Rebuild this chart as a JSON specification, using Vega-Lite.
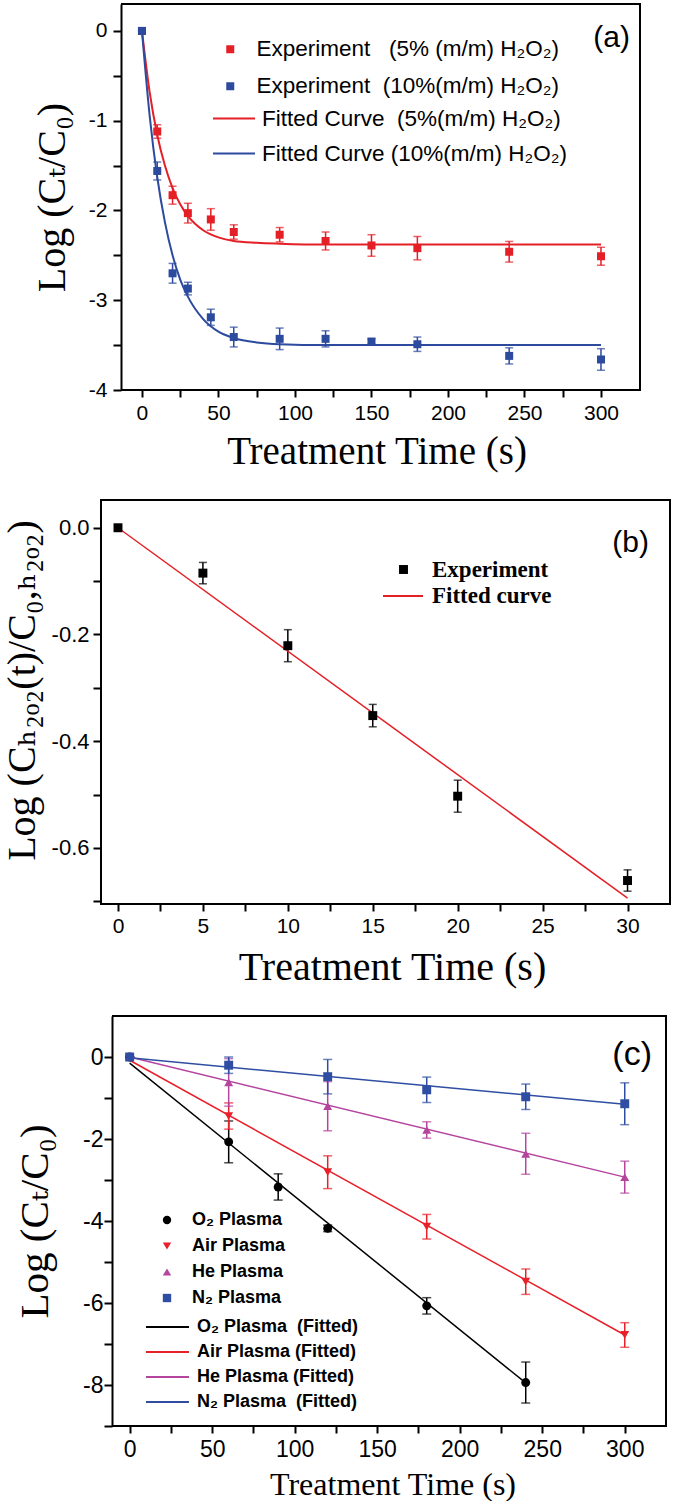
{
  "$schema": "https://vega.github.io/schema/vega-lite/v6.json",
  "padding": {"left": 0, "top": 3, "right": 0, "bottom": 0},
  "background": "white",
  "columns": 1,
  "spacing": 27,
  "align": "none",
  "bounds": "full",
  "resolve": {"scale": {"color": "independent", "stroke": "independent", "fill": "independent", "shape": "independent"}, "legend": {"color": "independent", "stroke": "independent", "fill": "independent", "shape": "independent"}},
  "config": {
    "view": {"stroke": "black", "strokeWidth": 2},
    "axis": {"domain": false, "grid": false, "tickColor": "black", "tickWidth": 2, "labelColor": "black", "titleColor": "black", "labelFont": "Liberation Sans", "titleFont": "Liberation Serif, DejaVu Serif", "titleFontWeight": "normal"},
    "legend": {"labelColor": "black", "labelLimit": 600, "padding": 0},
    "title": {"color": "black"}
  },
  "datasets": {
    "a_pts": [
      {"t": 0, "y": 0, "lo": 0, "hi": 0, "series": "Experiment\u00a0\u00a0\u00a0(5% (m/m) H₂O₂)"},
      {"t": 10, "y": -1.12, "lo": -1.195, "hi": -1.045, "series": "Experiment\u00a0\u00a0\u00a0(5% (m/m) H₂O₂)"},
      {"t": 20, "y": -1.83, "lo": -1.93, "hi": -1.73, "series": "Experiment\u00a0\u00a0\u00a0(5% (m/m) H₂O₂)"},
      {"t": 30, "y": -2.03, "lo": -2.14, "hi": -1.92, "series": "Experiment\u00a0\u00a0\u00a0(5% (m/m) H₂O₂)"},
      {"t": 45, "y": -2.1, "lo": -2.22, "hi": -1.98, "series": "Experiment\u00a0\u00a0\u00a0(5% (m/m) H₂O₂)"},
      {"t": 60, "y": -2.24, "lo": -2.32, "hi": -2.16, "series": "Experiment\u00a0\u00a0\u00a0(5% (m/m) H₂O₂)"},
      {"t": 90, "y": -2.27, "lo": -2.35, "hi": -2.19, "series": "Experiment\u00a0\u00a0\u00a0(5% (m/m) H₂O₂)"},
      {"t": 120, "y": -2.34, "lo": -2.44, "hi": -2.24, "series": "Experiment\u00a0\u00a0\u00a0(5% (m/m) H₂O₂)"},
      {"t": 150, "y": -2.39, "lo": -2.51, "hi": -2.27, "series": "Experiment\u00a0\u00a0\u00a0(5% (m/m) H₂O₂)"},
      {"t": 180, "y": -2.42, "lo": -2.55, "hi": -2.29, "series": "Experiment\u00a0\u00a0\u00a0(5% (m/m) H₂O₂)"},
      {"t": 240, "y": -2.46, "lo": -2.575, "hi": -2.345, "series": "Experiment\u00a0\u00a0\u00a0(5% (m/m) H₂O₂)"},
      {"t": 300, "y": -2.51, "lo": -2.61, "hi": -2.41, "series": "Experiment\u00a0\u00a0\u00a0(5% (m/m) H₂O₂)"},
      {"t": 0, "y": 0, "lo": 0, "hi": 0, "series": "Experiment\u00a0\u00a0(10%(m/m) H₂O₂)"},
      {"t": 10, "y": -1.56, "lo": -1.66, "hi": -1.46, "series": "Experiment\u00a0\u00a0(10%(m/m) H₂O₂)"},
      {"t": 20, "y": -2.7, "lo": -2.81, "hi": -2.59, "series": "Experiment\u00a0\u00a0(10%(m/m) H₂O₂)"},
      {"t": 30, "y": -2.87, "lo": -2.94, "hi": -2.8, "series": "Experiment\u00a0\u00a0(10%(m/m) H₂O₂)"},
      {"t": 45, "y": -3.19, "lo": -3.28, "hi": -3.1, "series": "Experiment\u00a0\u00a0(10%(m/m) H₂O₂)"},
      {"t": 60, "y": -3.41, "lo": -3.52, "hi": -3.3, "series": "Experiment\u00a0\u00a0(10%(m/m) H₂O₂)"},
      {"t": 90, "y": -3.43, "lo": -3.55, "hi": -3.31, "series": "Experiment\u00a0\u00a0(10%(m/m) H₂O₂)"},
      {"t": 120, "y": -3.43, "lo": -3.52, "hi": -3.34, "series": "Experiment\u00a0\u00a0(10%(m/m) H₂O₂)"},
      {"t": 150, "y": -3.46, "lo": -3.49, "hi": -3.43, "series": "Experiment\u00a0\u00a0(10%(m/m) H₂O₂)"},
      {"t": 180, "y": -3.49, "lo": -3.57, "hi": -3.41, "series": "Experiment\u00a0\u00a0(10%(m/m) H₂O₂)"},
      {"t": 240, "y": -3.62, "lo": -3.71, "hi": -3.53, "series": "Experiment\u00a0\u00a0(10%(m/m) H₂O₂)"},
      {"t": 300, "y": -3.66, "lo": -3.78, "hi": -3.54, "series": "Experiment\u00a0\u00a0(10%(m/m) H₂O₂)"}
    ],
    "a_fit": [
      {"t": 0, "y": 0, "fit": "Fitted Curve\u00a0\u00a0(5%(m/m) H₂O₂)"},
      {"t": 5, "y": -0.68, "fit": "Fitted Curve\u00a0\u00a0(5%(m/m) H₂O₂)"},
      {"t": 10, "y": -1.16, "fit": "Fitted Curve\u00a0\u00a0(5%(m/m) H₂O₂)"},
      {"t": 15, "y": -1.5, "fit": "Fitted Curve\u00a0\u00a0(5%(m/m) H₂O₂)"},
      {"t": 20, "y": -1.75, "fit": "Fitted Curve\u00a0\u00a0(5%(m/m) H₂O₂)"},
      {"t": 25, "y": -1.93, "fit": "Fitted Curve\u00a0\u00a0(5%(m/m) H₂O₂)"},
      {"t": 30, "y": -2.06, "fit": "Fitted Curve\u00a0\u00a0(5%(m/m) H₂O₂)"},
      {"t": 40, "y": -2.22, "fit": "Fitted Curve\u00a0\u00a0(5%(m/m) H₂O₂)"},
      {"t": 50, "y": -2.3, "fit": "Fitted Curve\u00a0\u00a0(5%(m/m) H₂O₂)"},
      {"t": 60, "y": -2.34, "fit": "Fitted Curve\u00a0\u00a0(5%(m/m) H₂O₂)"},
      {"t": 75, "y": -2.36, "fit": "Fitted Curve\u00a0\u00a0(5%(m/m) H₂O₂)"},
      {"t": 90, "y": -2.37, "fit": "Fitted Curve\u00a0\u00a0(5%(m/m) H₂O₂)"},
      {"t": 120, "y": -2.38, "fit": "Fitted Curve\u00a0\u00a0(5%(m/m) H₂O₂)"},
      {"t": 200, "y": -2.38, "fit": "Fitted Curve\u00a0\u00a0(5%(m/m) H₂O₂)"},
      {"t": 300, "y": -2.38, "fit": "Fitted Curve\u00a0\u00a0(5%(m/m) H₂O₂)"},
      {"t": 0, "y": 0, "fit": "Fitted Curve (10%(m/m) H₂O₂)"},
      {"t": 5, "y": -0.94, "fit": "Fitted Curve (10%(m/m) H₂O₂)"},
      {"t": 10, "y": -1.63, "fit": "Fitted Curve (10%(m/m) H₂O₂)"},
      {"t": 15, "y": -2.13, "fit": "Fitted Curve (10%(m/m) H₂O₂)"},
      {"t": 20, "y": -2.5, "fit": "Fitted Curve (10%(m/m) H₂O₂)"},
      {"t": 25, "y": -2.77, "fit": "Fitted Curve (10%(m/m) H₂O₂)"},
      {"t": 30, "y": -2.96, "fit": "Fitted Curve (10%(m/m) H₂O₂)"},
      {"t": 40, "y": -3.21, "fit": "Fitted Curve (10%(m/m) H₂O₂)"},
      {"t": 50, "y": -3.35, "fit": "Fitted Curve (10%(m/m) H₂O₂)"},
      {"t": 60, "y": -3.42, "fit": "Fitted Curve (10%(m/m) H₂O₂)"},
      {"t": 75, "y": -3.47, "fit": "Fitted Curve (10%(m/m) H₂O₂)"},
      {"t": 90, "y": -3.49, "fit": "Fitted Curve (10%(m/m) H₂O₂)"},
      {"t": 120, "y": -3.5, "fit": "Fitted Curve (10%(m/m) H₂O₂)"},
      {"t": 200, "y": -3.5, "fit": "Fitted Curve (10%(m/m) H₂O₂)"},
      {"t": 300, "y": -3.5, "fit": "Fitted Curve (10%(m/m) H₂O₂)"}
    ],
    "b_pts": [
      {"t": 0, "y": 0, "lo": 0, "hi": 0, "series": "Experiment"},
      {"t": 5, "y": -0.085, "lo": -0.105, "hi": -0.065, "series": "Experiment"},
      {"t": 10, "y": -0.221, "lo": -0.251, "hi": -0.191, "series": "Experiment"},
      {"t": 15, "y": -0.352, "lo": -0.373, "hi": -0.331, "series": "Experiment"},
      {"t": 20, "y": -0.503, "lo": -0.533, "hi": -0.473, "series": "Experiment"},
      {"t": 30, "y": -0.661, "lo": -0.681, "hi": -0.641, "series": "Experiment"}
    ],
    "b_fit": [
      {"t": 0, "y": 0, "fit": "Fitted curve"},
      {"t": 30, "y": -0.694, "fit": "Fitted curve"}
    ],
    "c_pts": [
      {"t": 0, "y": 0, "lo": 0, "hi": 0, "gas": "O₂ Plasma"},
      {"t": 60, "y": -2.07, "lo": -2.58, "hi": -1.56, "gas": "O₂ Plasma"},
      {"t": 90, "y": -3.17, "lo": -3.49, "hi": -2.85, "gas": "O₂ Plasma"},
      {"t": 120, "y": -4.18, "lo": -4.26, "hi": -4.1, "gas": "O₂ Plasma"},
      {"t": 180, "y": -6.07, "lo": -6.27, "hi": -5.87, "gas": "O₂ Plasma"},
      {"t": 240, "y": -7.94, "lo": -8.44, "hi": -7.44, "gas": "O₂ Plasma"},
      {"t": 0, "y": 0, "lo": 0, "hi": 0, "gas": "Air Plasma"},
      {"t": 60, "y": -1.44, "lo": -1.76, "hi": -1.12, "gas": "Air Plasma"},
      {"t": 120, "y": -2.81, "lo": -3.21, "hi": -2.41, "gas": "Air Plasma"},
      {"t": 180, "y": -4.14, "lo": -4.44, "hi": -3.84, "gas": "Air Plasma"},
      {"t": 240, "y": -5.48, "lo": -5.79, "hi": -5.17, "gas": "Air Plasma"},
      {"t": 300, "y": -6.78, "lo": -7.08, "hi": -6.48, "gas": "Air Plasma"},
      {"t": 0, "y": 0, "lo": 0, "hi": 0, "gas": "He Plasma"},
      {"t": 60, "y": -0.62, "lo": -1.2, "hi": -0.04, "gas": "He Plasma"},
      {"t": 120, "y": -1.2, "lo": -1.8, "hi": -0.6, "gas": "He Plasma"},
      {"t": 180, "y": -1.78, "lo": -1.98, "hi": -1.58, "gas": "He Plasma"},
      {"t": 240, "y": -2.36, "lo": -2.86, "hi": -1.86, "gas": "He Plasma"},
      {"t": 300, "y": -2.93, "lo": -3.32, "hi": -2.54, "gas": "He Plasma"},
      {"t": 0, "y": 0, "lo": 0, "hi": 0, "gas": "N₂ Plasma"},
      {"t": 60, "y": -0.2, "lo": -0.4, "hi": 0.0, "gas": "N₂ Plasma"},
      {"t": 120, "y": -0.48, "lo": -0.9, "hi": -0.06, "gas": "N₂ Plasma"},
      {"t": 180, "y": -0.8, "lo": -1.11, "hi": -0.49, "gas": "N₂ Plasma"},
      {"t": 240, "y": -0.97, "lo": -1.28, "hi": -0.66, "gas": "N₂ Plasma"},
      {"t": 300, "y": -1.14, "lo": -1.65, "hi": -0.63, "gas": "N₂ Plasma"}
    ],
    "c_fit": [
      {"t": 0, "y": -0.15, "fit": "O₂ Plasma\u00a0\u00a0(Fitted)"},
      {"t": 240, "y": -7.95, "fit": "O₂ Plasma\u00a0\u00a0(Fitted)"},
      {"t": 0, "y": -0.08, "fit": "Air Plasma (Fitted)"},
      {"t": 300, "y": -6.78, "fit": "Air Plasma (Fitted)"},
      {"t": 0, "y": 0, "fit": "He Plasma (Fitted)"},
      {"t": 300, "y": -2.93, "fit": "He Plasma (Fitted)"},
      {"t": 0, "y": -0.02, "fit": "N₂ Plasma\u00a0\u00a0(Fitted)"},
      {"t": 300, "y": -1.15, "fit": "N₂ Plasma\u00a0\u00a0(Fitted)"}
    ]
  },
  "concat": [
    {
      "width": 539,
      "height": 386,
      "view": {"stroke": "black", "strokeWidth": 2, "strokeDash": [1424, 426], "strokeDashOffset": 1830},
      "title": {"text": "(a)", "orient": "top", "anchor": "end", "offset": 0, "baseline": "top", "dy": 49, "dx": -10, "fontSize": 30, "font": "Liberation Sans", "fontWeight": "normal"},
      "encoding": {
        "x": {"field": "t", "type": "quantitative", "scale": {"domain": [-26.77, 325.5], "nice": false, "zero": false},
          "axis": {"title": "Treatment Time (s)", "titleX": 275.5, "values": [0, 25, 50, 75, 100, 125, 150, 175, 200, 225, 250, 275, 300], "labelExpr": "datum.value % 50 === 0 ? '' + datum.value : ''", "titleFontSize": 39, "titlePadding": 9, "labelFontSize": 21, "labelPadding": 5, "tickSize": 7}}
      },
      "layer": [
        {
          "data": {"name": "a_pts"},
          "transform": [{"filter": "datum.series === 'Experiment\u00a0\u00a0\u00a0(5% (m/m) H₂O₂)'"}],
          "mark": {"type": "errorbar", "ticks": true, "size": 8, "thickness": 1.5, "color": "#e41f26"},
          "encoding": {
            "y": {"field": "lo", "type": "quantitative", "scale": {"domain": [-4, 0.3], "nice": false, "zero": false},
              "axis": {"title": "Log (Cₜ/C₀)", "offset": -20, "domain": true, "domainColor": "black", "domainWidth": 2, "values": [0, -0.5, -1, -1.5, -2, -2.5, -3, -3.5, -4], "labelExpr": "datum.value % 1 === 0 ? '' + datum.value : ''", "titleFontSize": 40, "titleX": -57, "titleBaseline": "alphabetic", "labelFontSize": 21, "labelPadding": 6, "tickSize": 8}},
            "y2": {"field": "hi"}
          }
        },
        {
          "data": {"name": "a_pts"},
          "transform": [{"filter": "datum.series === 'Experiment\u00a0\u00a0(10%(m/m) H₂O₂)'"}],
          "mark": {"type": "errorbar", "ticks": true, "size": 8, "thickness": 1.5, "color": "#2c4a9e"},
          "encoding": {
            "y": {"field": "lo", "type": "quantitative", "title": "Log (Cₜ/C₀)"},
            "y2": {"field": "hi"}
          }
        },
        {
          "data": {"name": "a_fit"},
          "mark": {"type": "line", "strokeWidth": 2, "interpolate": "monotone"},
          "encoding": {
            "y": {"field": "y", "type": "quantitative", "title": "Log (Cₜ/C₀)"},
            "stroke": {"field": "fit", "type": "nominal", "scale": {"domain": ["Fitted Curve\u00a0\u00a0(5%(m/m) H₂O₂)", "Fitted Curve (10%(m/m) H₂O₂)"], "range": ["#e41f26", "#2c4a9e"]},
              "legend": {"title": null, "orient": "none", "legendX": 111, "legendY": 103, "symbolType": "stroke", "symbolSize": 1764, "symbolStrokeWidth": 2, "clipHeight": 23, "labelFont": "Liberation Sans", "labelFontSize": 22.5, "labelOffset": 6, "rowPadding": 12}}
          }
        },
        {
          "data": {"name": "a_pts"},
          "mark": {"type": "point", "shape": "square", "filled": true, "opacity": 1, "size": 64},
          "encoding": {
            "y": {"field": "y", "type": "quantitative", "title": "Log (Cₜ/C₀)"},
            "fill": {"field": "series", "type": "nominal", "scale": {"domain": ["Experiment\u00a0\u00a0\u00a0(5% (m/m) H₂O₂)", "Experiment\u00a0\u00a0(10%(m/m) H₂O₂)"], "range": ["#e41f26", "#2c4a9e"]},
              "legend": {"title": null, "orient": "none", "legendX": 118, "legendY": 34, "symbolType": "square", "symbolSize": 64, "symbolOpacity": 1, "symbolStrokeWidth": 0, "labelFont": "Liberation Sans", "labelFontSize": 22.5, "labelOffset": 15, "rowPadding": 14}}
          }
        }
      ]
    },
    {
      "width": 569,
      "height": 404,
      "title": {"text": "(b)", "orient": "top", "anchor": "end", "offset": 0, "baseline": "top", "dy": 58, "dx": -21, "fontSize": 30, "font": "Liberation Sans", "fontWeight": "normal"},
      "encoding": {
        "x": {"field": "t", "type": "quantitative", "scale": {"domain": [-1, 32.5], "nice": false, "zero": false},
          "axis": {"title": "Treatment Time (s)", "titleX": 291, "values": [0, 2.5, 5, 7.5, 10, 12.5, 15, 17.5, 20, 22.5, 25, 27.5, 30], "labelExpr": "datum.value % 5 === 0 ? '' + datum.value : ''", "titleFontSize": 40, "titlePadding": 11, "labelFontSize": 21, "labelPadding": 4, "tickSize": 7}}
      },
      "layer": [
        {
          "data": {"name": "b_pts"},
          "mark": {"type": "errorbar", "ticks": true, "size": 8, "thickness": 1.5, "color": "black"},
          "encoding": {
            "y": {"field": "lo", "type": "quantitative", "scale": {"domain": [-0.705, 0.052], "nice": false, "zero": false},
              "axis": {"title": "Log (Cₕ₂ₒ₂(t)/C₀,ₕ₂ₒ₂)", "values": [0, -0.1, -0.2, -0.3, -0.4, -0.5, -0.6, -0.7], "labelExpr": "abs(round(datum.value * 10)) % 2 === 0 ? replace(format(datum.value, '.1f'), '\u2212', '-') : ''", "titleFontSize": 40, "titleX": -67, "titleY": 190, "titleBaseline": "alphabetic", "labelFontSize": 22, "labelPadding": 4, "tickSize": 8}},
            "y2": {"field": "hi"}
          }
        },
        {
          "data": {"name": "b_fit"},
          "mark": {"type": "line", "strokeWidth": 1.5},
          "encoding": {
            "y": {"field": "y", "type": "quantitative", "title": "Log (Cₕ₂ₒ₂(t)/C₀,ₕ₂ₒ₂)"},
            "stroke": {"field": "fit", "type": "nominal", "scale": {"domain": ["Fitted curve"], "range": ["#e41f26"]},
              "legend": {"title": null, "orient": "none", "legendX": 281, "legendY": 75, "symbolType": "stroke", "symbolSize": 1600, "symbolStrokeWidth": 2, "labelFont": "Liberation Serif", "labelFontWeight": "bold", "labelFontSize": 23, "labelOffset": 8}}
          }
        },
        {
          "data": {"name": "b_pts"},
          "mark": {"type": "point", "shape": "square", "filled": true, "opacity": 1, "size": 80},
          "encoding": {
            "y": {"field": "y", "type": "quantitative", "title": "Log (Cₕ₂ₒ₂(t)/C₀,ₕ₂ₒ₂)"},
            "color": {"field": "series", "type": "nominal", "scale": {"domain": ["Experiment"], "range": ["black"]},
              "legend": {"title": null, "orient": "none", "legendX": 291, "legendY": 58, "symbolType": "square", "symbolSize": 80, "symbolOpacity": 1, "labelFont": "Liberation Serif", "labelFontWeight": "bold", "labelFontSize": 23, "labelOffset": 17}}
          }
        }
      ]
    },
    {
      "width": 565,
      "height": 410,
      "view": {"stroke": "black", "strokeWidth": 2, "strokeDash": [1518, 432], "strokeDashOffset": 1939},
      "title": {"text": "(c)", "orient": "top", "anchor": "end", "offset": 0, "baseline": "top", "dy": 56, "dx": -14, "fontSize": 34, "font": "Liberation Sans", "fontWeight": "normal"},
      "encoding": {
        "x": {"field": "t", "type": "quantitative", "scale": {"domain": [-17.37, 325], "nice": false, "zero": false},
          "axis": {"title": "Treatment Time (s)", "titleX": 291.5, "values": [0, 25, 50, 75, 100, 125, 150, 175, 200, 225, 250, 275, 300], "labelExpr": "datum.value % 50 === 0 ? '' + datum.value : ''", "titleFontSize": 32, "titlePadding": 8, "labelFontSize": 23, "labelPadding": 5, "tickSize": 7}}
      },
      "layer": [
        {
          "data": {"name": "c_pts"},
          "transform": [{"filter": "datum.gas === 'O₂ Plasma'"}],
          "mark": {"type": "errorbar", "ticks": true, "size": 9, "thickness": 1.5, "color": "#000000"},
          "encoding": {
            "y": {"field": "lo", "type": "quantitative", "scale": {"domain": [-9, 1], "nice": false, "zero": false},
              "axis": {"title": "Log (Cₜ/C₀)", "offset": -11, "domain": true, "domainColor": "black", "domainWidth": 2, "values": [0, -1, -2, -3, -4, -5, -6, -7, -8, -9], "labelExpr": "datum.value % 2 === 0 ? '' + datum.value : ''", "titleFontSize": 41, "titleX": -65, "titleBaseline": "alphabetic", "labelFontSize": 23, "labelPadding": 1, "tickSize": 8}},
            "y2": {"field": "hi"}
          }
        },
        {
          "data": {"name": "c_pts"},
          "transform": [{"filter": "datum.gas === 'Air Plasma'"}],
          "mark": {"type": "errorbar", "ticks": true, "size": 9, "thickness": 1.5, "color": "#e8202a"},
          "encoding": {"y": {"field": "lo", "type": "quantitative", "title": "Log (Cₜ/C₀)"}, "y2": {"field": "hi"}}
        },
        {
          "data": {"name": "c_pts"},
          "transform": [{"filter": "datum.gas === 'He Plasma'"}],
          "mark": {"type": "errorbar", "ticks": true, "size": 9, "thickness": 1.5, "color": "#b5449f"},
          "encoding": {"y": {"field": "lo", "type": "quantitative", "title": "Log (Cₜ/C₀)"}, "y2": {"field": "hi"}}
        },
        {
          "data": {"name": "c_pts"},
          "transform": [{"filter": "datum.gas === 'N₂ Plasma'"}],
          "mark": {"type": "errorbar", "ticks": true, "size": 9, "thickness": 1.5, "color": "#2f4ea3"},
          "encoding": {"y": {"field": "lo", "type": "quantitative", "title": "Log (Cₜ/C₀)"}, "y2": {"field": "hi"}}
        },
        {
          "data": {"name": "c_fit"},
          "mark": {"type": "line", "strokeWidth": 1.5},
          "encoding": {
            "y": {"field": "y", "type": "quantitative", "title": "Log (Cₜ/C₀)"},
            "stroke": {"field": "fit", "type": "nominal", "scale": {"domain": ["O₂ Plasma\u00a0\u00a0(Fitted)", "Air Plasma (Fitted)", "He Plasma (Fitted)", "N₂ Plasma\u00a0\u00a0(Fitted)"], "range": ["#000000", "#e8202a", "#b5449f", "#2f4ea3"]},
              "legend": {"title": null, "orient": "none", "legendX": 44, "legendY": 301, "symbolType": "stroke", "symbolSize": 1849, "symbolStrokeWidth": 2, "clipHeight": 20, "labelFont": "Liberation Sans", "labelFontWeight": "bold", "labelFontSize": 18, "labelOffset": 7, "rowPadding": 5}}
          }
        },
        {
          "data": {"name": "c_pts"},
          "mark": {"type": "point", "filled": true, "opacity": 1, "size": 80},
          "encoding": {
            "y": {"field": "y", "type": "quantitative", "title": "Log (Cₜ/C₀)"},
            "fill": {"field": "gas", "type": "nominal", "scale": {"domain": ["O₂ Plasma", "Air Plasma", "He Plasma", "N₂ Plasma"], "range": ["#000000", "#e8202a", "#b5449f", "#2f4ea3"]},
              "legend": {"title": null, "orient": "none", "legendX": 57, "legendY": 195, "symbolSize": 70, "symbolOpacity": 1, "symbolStrokeWidth": 0, "labelFont": "Liberation Sans", "labelFontWeight": "bold", "labelFontSize": 18, "labelOffset": 16, "rowPadding": 8}},
            "shape": {"field": "gas", "type": "nominal", "scale": {"domain": ["O₂ Plasma", "Air Plasma", "He Plasma", "N₂ Plasma"], "range": ["circle", "triangle-down", "triangle-up", "square"]},
              "legend": {"title": null, "orient": "none", "legendX": 57, "legendY": 195, "symbolSize": 70, "symbolOpacity": 1, "symbolStrokeWidth": 0, "labelFont": "Liberation Sans", "labelFontWeight": "bold", "labelFontSize": 18, "labelOffset": 16, "rowPadding": 8}}
          }
        }
      ]
    }
  ]
}
